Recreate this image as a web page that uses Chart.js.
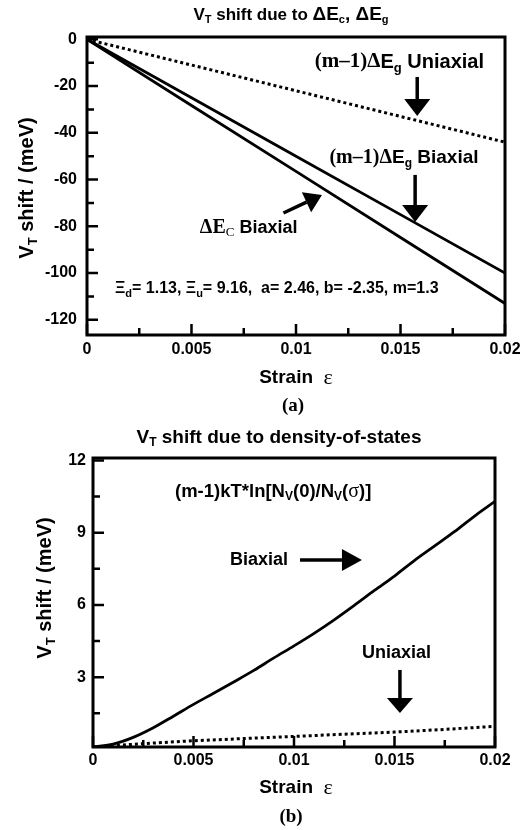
<!DOCTYPE html>
<html>
<head>
<meta charset="utf-8">
<script src="https://cdn.jsdelivr.net/npm/chart.js@4.4.1/dist/chart.umd.min.js"></script>
<style>
  html, body { margin: 0; padding: 0; background: #fff; }
  #wrap { position: relative; width: 529px; height: 830px; }
  canvas { position: absolute; left: 0; }
</style>
</head>
<body>
<div id="wrap">
  <canvas id="chartA" width="529" height="415" style="top:0"></canvas>
  <canvas id="chartB" width="529" height="415" style="top:415px"></canvas>
</div>
<script>
// (a) VT shift due to dEc, dEg  (meV vs strain)
const strainA = [0, 0.005, 0.01, 0.015, 0.02];
const uniaxialEg = [0, -11, -22, -33, -44];
const biaxialEg = [0, -25, -50, -75, -100];
const biaxialEc = [0, -28.3, -56.5, -84.8, -113];
const yTicksA = [0, -20, -40, -60, -80, -100, -120];
const yMinorA = [-10, -30, -50, -70, -90, -110];

// (b) VT shift due to density-of-states
const strainB = [0, 0.001, 0.002, 0.003, 0.004, 0.005, 0.006, 0.007, 0.008, 0.009, 0.01,
  0.011, 0.012, 0.013, 0.014, 0.015, 0.016, 0.017, 0.018, 0.019, 0.02];
const biaxialDos = [0.1, 0.22, 0.5, 0.9, 1.38, 1.87, 2.33, 2.8, 3.28, 3.8, 4.3,
  4.82, 5.38, 5.98, 6.6, 7.2, 7.85, 8.45, 9.05, 9.7, 10.3];
const strainUni = [0, 0.0025, 0.005, 0.0075, 0.01, 0.0125, 0.015, 0.0175, 0.02];
const uniaxialDos = [0.1, 0.24, 0.36, 0.45, 0.54, 0.63, 0.72, 0.83, 0.96];
const yTicksB = [3, 6, 9, 12];
const yMinorB = [1.5, 4.5, 7.5, 10.5];

// shared x axis
const xTicks = [0, 0.005, 0.01, 0.015, 0.02];
const xMinor = [0.0025, 0.0075, 0.0125, 0.0175];

const SANS = '"Liberation Sans", Arial, sans-serif';
const SERIF = '"Liberation Serif", "Times New Roman", serif';
const B = px => 'bold ' + px + 'px ' + SANS;
const R = px => px + 'px ' + SERIF;
const RB = px => 'bold ' + px + 'px ' + SERIF;

function pts(xs, ys) {
  return xs.map((x, i) => ({ x: x, y: ys[i] }));
}

// draw text made of pieces [text, font, yOffset]
function rich(ctx, parts, x, y, align) {
  let w = 0;
  parts.forEach(p => { ctx.font = p[1]; w += ctx.measureText(p[0]).width; });
  let cx = align === 'center' ? x - w / 2 : x;
  ctx.textAlign = 'left';
  ctx.textBaseline = 'middle';
  parts.forEach(p => {
    ctx.font = p[1];
    ctx.fillText(p[0], cx, y + (p[2] || 0));
    cx += ctx.measureText(p[0]).width;
  });
}

function vrich(ctx, parts, x, y) {
  ctx.save();
  ctx.translate(x, y);
  ctx.rotate(-Math.PI / 2);
  rich(ctx, parts, 0, 0, 'center');
  ctx.restore();
}

function arrow(ctx, x1, y1, x2, y2, hl, hw) {
  const a = Math.atan2(y2 - y1, x2 - x1);
  const bx = x2 - hl * Math.cos(a), by = y2 - hl * Math.sin(a);
  ctx.lineWidth = 3.5;
  ctx.beginPath();
  ctx.moveTo(x1, y1);
  ctx.lineTo(bx, by);
  ctx.stroke();
  ctx.beginPath();
  ctx.moveTo(x2, y2);
  ctx.lineTo(bx + hw / 2 * Math.sin(a), by - hw / 2 * Math.cos(a));
  ctx.lineTo(bx - hw / 2 * Math.sin(a), by + hw / 2 * Math.cos(a));
  ctx.closePath();
  ctx.fill();
}

function frame(chart, yMajor, yMinor) {
  const { ctx, chartArea: a, scales: { x, y } } = chart;
  ctx.strokeStyle = '#000';
  ctx.lineWidth = 3;
  ctx.strokeRect(a.left, a.top, a.right - a.left, a.bottom - a.top);
  ctx.lineWidth = 2.5;
  ctx.beginPath();
  xTicks.forEach(v => { const p = x.getPixelForValue(v); ctx.moveTo(p, a.bottom); ctx.lineTo(p, a.bottom - 11); });
  xMinor.forEach(v => { const p = x.getPixelForValue(v); ctx.moveTo(p, a.bottom); ctx.lineTo(p, a.bottom - 7); });
  yMajor.forEach(v => { const p = y.getPixelForValue(v); ctx.moveTo(a.left, p); ctx.lineTo(a.left + 11, p); });
  yMinor.forEach(v => { const p = y.getPixelForValue(v); ctx.moveTo(a.left, p); ctx.lineTo(a.left + 7, p); });
  ctx.stroke();
}

function makeChart(id, datasets, o) {
  return new Chart(document.getElementById(id), {
    type: 'scatter',
    data: { datasets: datasets },
    options: {
      responsive: false,
      animation: false,
      devicePixelRatio: 1,
      layout: { padding: o.padding },
      plugins: { legend: { display: false }, tooltip: { enabled: false } },
      elements: { point: { radius: 0 } },
      scales: {
        x: {
          type: 'linear', min: 0, max: 0.02,
          afterBuildTicks: s => { s.ticks = xTicks.map(v => ({ value: v })); },
          afterFit: s => { s.height = o.xHeight; },
          grid: { display: false, drawTicks: false },
          border: { display: false },
          ticks: { color: '#000', font: { family: SANS, size: 16, weight: 'bold' }, padding: o.xPad,
            maxRotation: 0, autoSkip: false, callback: v => String(v) }
        },
        y: {
          type: 'linear', min: o.yMin, max: o.yMax,
          afterBuildTicks: s => { s.ticks = o.yTicks.map(v => ({ value: v })); },
          afterFit: s => { s.width = o.yWidth; },
          grid: { display: false, drawTicks: false },
          border: { display: false },
          ticks: { color: '#000', font: { family: SANS, size: 16, weight: 'bold' }, padding: o.yPad,
            autoSkip: false, callback: v => String(v) }
        }
      }
    },
    plugins: [{
      id: 'decor',
      afterDatasetsDraw: chart => {
        const ctx = chart.ctx;
        ctx.save();
        ctx.fillStyle = '#000';
        ctx.strokeStyle = '#000';
        frame(chart, o.yTicks, o.yMinor);
        o.draw(chart, ctx, chart.scales.x, chart.scales.y);
        ctx.restore();
      }
    }]
  });
}

const solid = { borderColor: '#000', borderWidth: 2.8, showLine: true, pointRadius: 0, fill: false };
const dotted = { borderColor: '#000', borderWidth: 3, borderDash: [3, 3], showLine: true, pointRadius: 0, fill: false };

makeChart('chartA', [
  Object.assign({ label: '(m-1)ΔEg Uniaxial', data: pts(strainA, uniaxialEg) }, dotted),
  Object.assign({ label: '(m-1)ΔEg Biaxial', data: pts(strainA, biaxialEg) }, solid),
  Object.assign({ label: 'ΔEc Biaxial', data: pts(strainA, biaxialEc) }, solid)
], {
  padding: { top: 37, right: 24, bottom: 0, left: 0 },
  xHeight: 80, yWidth: 87, xPad: 5, yPad: 10,
  yMin: -126.5, yMax: 1, yTicks: yTicksA, yMinor: yMinorA,
  draw: (chart, ctx, x, y) => {
    rich(ctx, [['V', B(17)], ['T', B(11), 5], [' shift due to ', B(17)],
      ['ΔE', B(19)], ['c', B(11), 5], [', ΔE', B(19)], ['g', B(11), 5]], 291, 15, 'center');
    vrich(ctx, [['V', B(20)], ['T', B(13), 6], [' shift / (meV)', B(20)]], 27, 188);
    rich(ctx, [['Strain  ', B(19)], ['ε', R(22)]], 296, 378, 'center');
    rich(ctx, [['(a)', RB(19)]], 293, 406, 'center');

    rich(ctx, [['(m–1)Δ', RB(21)], ['E', B(20)], ['g', B(13), 6], [' Uniaxial', B(20)]],
      x.getPixelForValue(0.0109), y.getPixelForValue(-9.7), 'left');
    arrow(ctx, x.getPixelForValue(0.0158), y.getPixelForValue(-16.1),
      x.getPixelForValue(0.0158), y.getPixelForValue(-32.8), 17, 26);

    rich(ctx, [['(m–1)Δ', RB(20)], ['E', B(19)], ['g', B(12), 6], [' Biaxial', B(19)]],
      x.getPixelForValue(0.0116), y.getPixelForValue(-50.8), 'left');
    arrow(ctx, x.getPixelForValue(0.0157), y.getPixelForValue(-58),
      x.getPixelForValue(0.0157), y.getPixelForValue(-78.2), 17, 26);

    rich(ctx, [['ΔE', RB(20)], ['C', R(13), 5], [' Biaxial', B(18)]],
      x.getPixelForValue(0.0054), y.getPixelForValue(-80.7), 'left');
    arrow(ctx, x.getPixelForValue(0.0094), y.getPixelForValue(-74.3),
      x.getPixelForValue(0.01124), y.getPixelForValue(-66.6), 17, 22);

    rich(ctx, [['Ξ', B(16)], ['d', B(11), 5], ['= 1.13, ', B(16)], ['Ξ', B(16)], ['u', B(11), 5],
      ['= 9.16,  a= 2.46, b= -2.35, m=1.3', B(16)]],
      x.getPixelForValue(0.00134), y.getPixelForValue(-106.8), 'left');
  }
});

makeChart('chartB', [
  Object.assign({ label: 'Biaxial', data: pts(strainB, biaxialDos), tension: 0.4, cubicInterpolationMode: 'monotone' }, solid),
  Object.assign({ label: 'Uniaxial', data: pts(strainUni, uniaxialDos) }, dotted)
], {
  padding: { top: 43, right: 34, bottom: 0, left: 0 },
  xHeight: 83, yWidth: 93, xPad: 4, yPad: 7,
  yMin: 0.1, yMax: 12.1, yTicks: yTicksB, yMinor: yMinorB,
  draw: (chart, ctx, x, y) => {
    rich(ctx, [['V', B(19)], ['T', B(12), 5], [' shift due to density-of-states', B(19)]], 279, 23, 'center');
    vrich(ctx, [['V', B(20)], ['T', B(13), 6], [' shift / (meV)', B(20)]], 45, 173);
    rich(ctx, [['Strain  ', B(19)], ['ε', R(22)]], 296, 373, 'center');
    rich(ctx, [['(b)', RB(19)]], 291, 402, 'center');

    rich(ctx, [['(m-1)kT*ln[N', B(18.5)], ['V', B(12), 5], ['(0)/N', B(18.5)], ['V', B(12), 5],
      ['(', B(18.5)], ['σ', R(20)], [')]', B(18.5)]],
      x.getPixelForValue(0.00408), y.getPixelForValue(10.69), 'left');

    rich(ctx, [['Biaxial', B(18)]], x.getPixelForValue(0.00682), y.getPixelForValue(7.86), 'left');
    arrow(ctx, x.getPixelForValue(0.0103), y.getPixelForValue(7.86),
      x.getPixelForValue(0.01338), y.getPixelForValue(7.86), 20, 22);

    rich(ctx, [['Uniaxial', B(18)]], x.getPixelForValue(0.01338), y.getPixelForValue(4.0), 'left');
    arrow(ctx, x.getPixelForValue(0.01527), y.getPixelForValue(3.3),
      x.getPixelForValue(0.01527), y.getPixelForValue(1.51), 15, 26);
  }
});
</script>
</body>
</html>
